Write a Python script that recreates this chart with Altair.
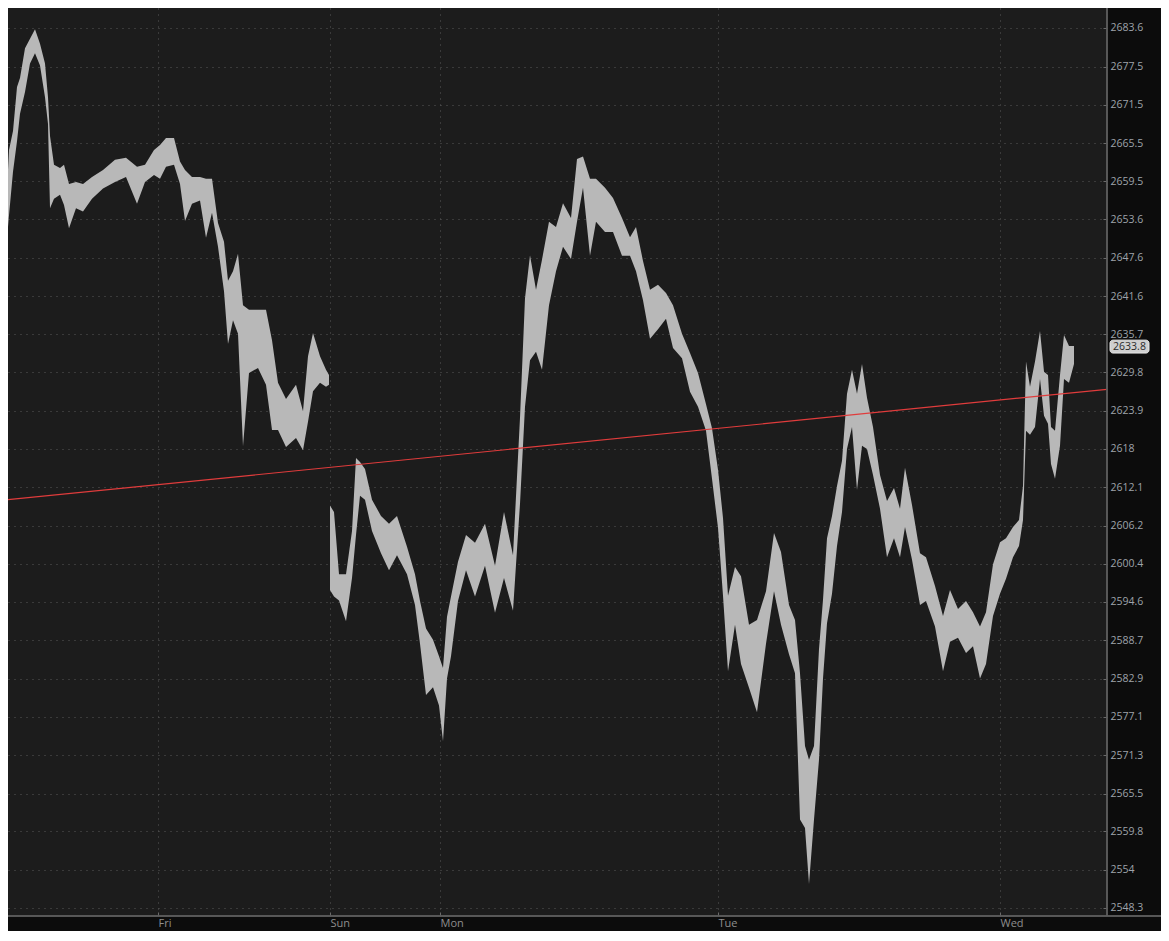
import altair as alt
import pandas as pd

# ---- price bars (bar index = 5-minute bar position), session 1: Thu/Fri ----
fri_bar = [0, 5, 9, 13, 17, 20, 25, 30, 35, 40, 45, 48, 50, 54, 60, 64, 69, 76, 83, 92,
           103, 115, 126, 137, 145, 154, 160, 166, 174, 180, 185, 192, 200, 206, 212, 218, 224, 228, 233, 238,
           243, 249, 258, 266, 272, 278, 286, 296, 303, 308, 313, 320, 326, 329]
fri_high = [2647.0, 2652.2, 2664.4, 2667.4, 2674.3, 2675.7, 2680.4, 2681.9, 2683.4, 2681.1,
            2678.0, 2672.7, 2666.6, 2662.1, 2661.6, 2662.1, 2659.1, 2659.4, 2659.1, 2660.2,
            2661.3, 2662.9, 2663.2, 2661.8, 2662.1, 2664.4, 2665.2, 2666.3, 2666.3, 2662.6,
            2661.3, 2660.2, 2660.2, 2659.9, 2659.9, 2653.0, 2650.1, 2644.0, 2645.5, 2648.2,
            2640.2, 2639.5, 2639.5, 2639.5, 2634.8, 2628.2, 2625.7, 2627.9, 2623.8, 2632.3,
            2635.9, 2632.3, 2630.2, 2629.4]
fri_low = [2642.4, 2647.0, 2654.2, 2661.0, 2665.8, 2670.1, 2673.5, 2678.0, 2679.6, 2677.7,
           2672.7, 2668.5, 2655.3, 2656.8, 2657.4, 2655.8, 2652.2, 2655.3, 2654.8, 2656.8,
           2658.4, 2659.4, 2660.2, 2656.0, 2659.4, 2660.5, 2659.9, 2661.8, 2662.1, 2659.1,
           2653.3, 2656.0, 2656.5, 2650.7, 2654.6, 2649.3, 2642.4, 2634.2, 2637.9, 2635.8,
           2618.4, 2629.7, 2630.5, 2627.9, 2620.9, 2620.9, 2618.3, 2619.7, 2617.8, 2622.2,
           2626.9, 2628.2, 2627.6, 2627.9]

# ---- session 2: Sun evening through Wed ----
sun_bar = [330, 334, 339, 346, 352, 356, 360, 365, 372, 381, 389, 397, 407, 415, 420, 426, 433, 439, 443, 447,
           451, 458, 466, 475, 485, 495, 504, 513, 520, 525, 530, 536, 542, 549, 556, 563, 571, 577, 583, 590,
           596, 605, 613, 622, 630, 636, 643, 650, 658, 666, 673, 682, 690, 698, 706, 712, 718, 723, 728, 735,
           741, 749, 757, 766, 774, 781, 789, 795, 800, 805, 809, 814, 819, 823, 827, 832, 837, 842, 847, 852,
           857, 862, 867, 873, 880, 887, 894, 900, 905, 912, 920, 926, 935, 943, 950, 958, 966, 973, 980, 986,
           993, 1000, 1006, 1013, 1019, 1023, 1026, 1030, 1035, 1040, 1044, 1048, 1051, 1055, 1060, 1064, 1069, 1074]
sun_high = [2609.3, 2608.3, 2598.8, 2598.8, 2605.4, 2616.6, 2616.0, 2614.9, 2610.2, 2607.7,
            2606.5, 2607.7, 2603.0, 2598.8, 2594.7, 2590.5, 2588.8, 2586.3, 2584.5, 2592.3,
            2595.4, 2600.7, 2604.8, 2603.6, 2606.5, 2600.1, 2608.3, 2601.7, 2622.8, 2641.3,
            2648.0, 2642.6, 2647.3, 2653.2, 2652.4, 2656.1, 2653.8, 2663.0, 2663.4, 2659.9,
            2659.9, 2658.5, 2656.9, 2653.8, 2650.8, 2652.4, 2647.1, 2642.6, 2643.4, 2642.1,
            2640.2, 2635.8, 2632.8, 2629.7, 2624.9, 2621.2, 2614.8, 2607.4, 2595.5, 2599.9,
            2598.5, 2591.1, 2591.8, 2596.2, 2605.1, 2602.2, 2594.1, 2591.8, 2583.7, 2572.7,
            2570.6, 2572.7, 2587.4, 2594.9, 2604.3, 2607.7, 2612.3, 2616.2, 2626.5, 2630.2,
            2626.5, 2631.1, 2625.9, 2621.4, 2614.0, 2610.0, 2612.0, 2608.8, 2615.1, 2609.4,
            2602.0, 2601.4, 2597.0, 2592.4, 2596.4, 2593.5, 2594.7, 2593.0, 2590.8, 2593.0,
            2600.3, 2603.7, 2604.3, 2606.0, 2607.1, 2612.3, 2631.5, 2627.6, 2631.5, 2636.2,
            2629.9, 2629.4, 2621.4, 2620.8, 2629.4, 2635.6, 2633.9, 2633.9]
sun_low = [2596.4, 2595.4, 2594.8, 2591.6, 2598.2, 2604.8, 2610.8, 2610.2, 2605.4, 2602.0,
           2599.4, 2601.7, 2598.8, 2594.1, 2588.2, 2580.4, 2581.6, 2578.8, 2573.4, 2582.9,
           2586.3, 2594.7, 2599.4, 2595.4, 2600.1, 2592.9, 2598.2, 2593.2, 2609.6, 2624.5,
           2631.7, 2633.0, 2630.2, 2640.2, 2645.5, 2649.3, 2647.4, 2653.2, 2658.5, 2647.9,
           2653.2, 2651.6, 2651.6, 2647.9, 2647.9, 2645.5, 2641.0, 2635.0, 2636.5, 2638.1,
           2633.6, 2632.0, 2626.8, 2624.5, 2620.8, 2613.4, 2605.9, 2595.5, 2584.0, 2591.1,
           2585.1, 2581.5, 2577.8, 2588.2, 2596.2, 2591.1, 2586.6, 2583.7, 2561.6, 2560.3,
           2551.9, 2561.6, 2570.6, 2582.9, 2591.3, 2595.8, 2603.1, 2608.3, 2618.0, 2621.4,
           2611.7, 2618.5, 2618.0, 2614.0, 2608.8, 2601.4, 2604.3, 2601.4, 2606.0, 2601.0,
           2594.1, 2594.7, 2590.8, 2584.0, 2588.5, 2589.1, 2586.8, 2587.8, 2582.9, 2585.1,
           2592.4, 2595.8, 2598.1, 2601.4, 2603.1, 2607.1, 2620.8, 2620.2, 2621.4, 2628.8,
           2623.1, 2621.9, 2615.7, 2613.4, 2618.5, 2628.8, 2628.2, 2631.1]

# ---- trend line (red) ----
trend_bar = [8, 1107]
trend_price = [2610.2, 2627.2]

# ---- axes ----
y_ticks = [2683.6, 2677.5, 2671.5, 2665.5, 2659.5, 2653.6, 2647.6, 2641.6, 2635.7, 2629.8,
           2623.9, 2618.0, 2612.1, 2606.2, 2600.4, 2594.6, 2588.7, 2582.9, 2577.1, 2571.3,
           2565.5, 2559.8, 2554.0, 2548.3]
day_bar = [158, 330, 440, 718, 1000]
day_names = ["Fri", "Sun", "Mon", "Tue", "Wed"]
last_price = 2633.8

W, H = 1099, 908
FONT = "Open Sans"

bars = pd.concat([
    pd.DataFrame({"bar": fri_bar, "low": fri_low, "high": fri_high, "session": "s1"}),
    pd.DataFrame({"bar": sun_bar, "low": sun_low, "high": sun_high, "session": "s2"}),
])
trend = pd.DataFrame({"bar": trend_bar, "price": trend_price})
last = pd.DataFrame({"price": [last_price], "top": [last_price + 1.0], "bot": [last_price - 1.0]})

xscale = alt.Scale(domain=[8, 1107], nice=False, zero=False)
yscale = alt.Scale(type="log", domain=[2547.1, 2686.75], nice=False, zero=False)

label_expr = " : ".join(f"datum.value == {b} ? '{n}'" for b, n in zip(day_bar, day_names)) + " : ''"

xaxis = alt.Axis(values=day_bar, labelExpr=label_expr, title=None, grid=True,
                 gridColor="#585858", gridDash=[1, 5], gridWidth=1,
                 domain=False, ticks=True, tickColor="#6a6a6a", tickSize=4, offset=-4,
                 labelAlign="left", labelPadding=1, labelColor="#8e8e8e",
                 labelFont=FONT, labelFontSize=11)
yaxis = alt.Axis(values=y_ticks, format=".1~f", orient="right", title=None, grid=True,
                 gridColor="#585858", gridDash=[1, 5], gridWidth=1,
                 domain=False, ticks=True, tickColor="#6a6a6a", tickSize=4, offset=-4,
                 labelPadding=3, labelColor="#9ea3aa", labelFont=FONT, labelFontSize=10.5,
                 labelBaseline="middle")

area = alt.Chart(bars).mark_area(color="#b8b8b8", clip=True, interpolate="linear", opacity=1).encode(
    x=alt.X("bar:Q", scale=xscale, axis=xaxis),
    y=alt.Y("low:Q", scale=yscale, axis=yaxis),
    y2="high:Q",
    detail="session:N",
)

trend_line = alt.Chart(trend).mark_line(color="#e03c3c", strokeWidth=1.2, clip=True).encode(
    x=alt.X("bar:Q", scale=xscale),
    y=alt.Y("price:Q", scale=yscale),
)

right_rule = alt.Chart(trend).mark_rule(color="#5c5c5c", strokeWidth=1.5).encode(
    x=alt.value(W), y=alt.value(0), y2=alt.value(H))
bottom_rule = alt.Chart(trend).mark_rule(color="#5c5c5c", strokeWidth=1.5).encode(
    x=alt.value(0), x2=alt.value(W + 60), y=alt.value(H))

box = alt.Chart(last).mark_rect(fill="#cfcfcf", stroke="#e6e6e6", strokeWidth=1, cornerRadius=3).encode(
    x=alt.value(W + 3), x2=alt.value(W + 42),
    y=alt.Y("top:Q", scale=yscale), y2="bot:Q",
)
box_text = alt.Chart(last).mark_text(color="#2a2a2a", font=FONT, fontSize=10.5, align="center",
                                     baseline="middle").encode(
    x=alt.value(W + 22.5),
    y=alt.Y("price:Q", scale=yscale),
    text=alt.Text("price:Q", format=".1f"),
)

chart = alt.layer(area, trend_line, right_rule, bottom_rule, box, box_text).properties(
    width=W, height=H,
    autosize=alt.AutoSizeParams(type="none"),
    padding={"left": 0, "top": 0, "right": 54, "bottom": 15},
).configure(
    background="#0c0c0c",
).configure_view(
    fill="#1c1c1c", stroke=None,
)

chart.save("out.html", embed_options={"renderer": "svg", "actions": False})
